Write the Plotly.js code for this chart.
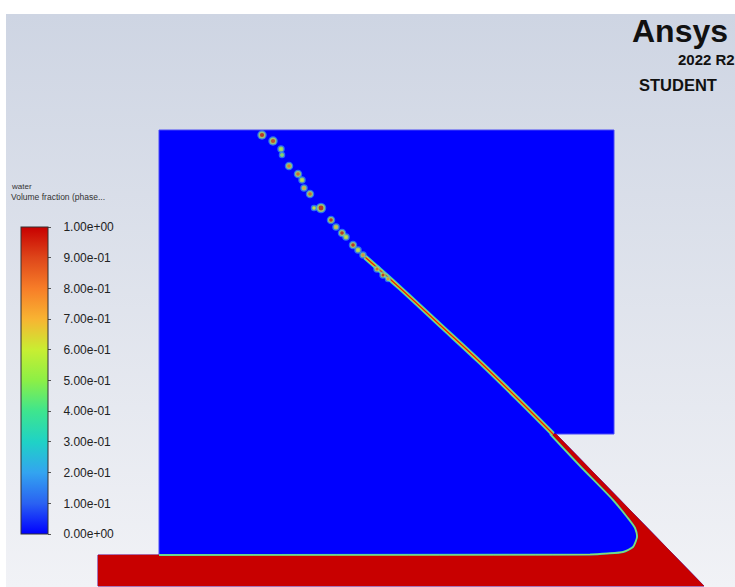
<!DOCTYPE html>
<html>
<head>
<meta charset="utf-8">
<script src="https://cdn.plot.ly/plotly-3.0.1.min.js"></script>
<style>
  html,body{margin:0;padding:0;background:#ffffff;width:735px;height:587px;overflow:hidden;}
  #bg{position:absolute;left:6px;top:14px;width:729px;height:573px;background:linear-gradient(#ced5e3,#f1f2f6);}
  #plot{position:absolute;left:0;top:0;width:735px;height:587px;}
</style>
</head>
<body>
<div id="bg"></div>
<div id="plot"></div>
<script>
// ---- Data (model units: origin at lower-left corner of upper air box, y up) ----
// Computational domain outline
const domainX = [0, 455, 455, 397, 545, -61, -61, 0, 0];
const domainY = [425, 425, 121, 121, -31, -31, 0, 0, 425];

// Water body (pool on the floor + film on the slanted wall below the step)
const waterX = [391, 397, 545, -61, -61, 0, 431, 448, 464, 474, 478, 476, 468, 454, 421, 391];
const waterY = [121, 121, -31, -31, 0, 0, 0.5, 1.5, 3, 8, 18, 27, 38, 55, 89, 121];

// Free surface of the pool / wall film (interface)
const surfX = [391, 421, 454, 468, 476, 478, 474, 464, 448, 431, 0];
const surfY = [121, 89, 55, 38, 27, 18, 8, 3, 1.5, 0.5, 0];

// Thin jet film above the step
const jetX = [206, 241, 281, 321, 358, 394];
const jetY = [298, 267, 230, 193, 157, 121];

// Droplets: position, size, peak volume fraction
const dropX = [103, 114, 122, 123, 130, 139, 143, 145, 151, 155, 162, 172, 177, 183, 187, 194, 199, 204, 218, 224, 229];
const dropY = [420, 414, 406, 400, 389, 381, 375, 367, 361, 347, 347, 335, 328, 322, 318, 310, 305, 300, 286, 280, 276];
const dropS = [7, 7, 5, 4, 6, 6, 5, 5, 6, 4, 8, 6, 5, 6, 5, 6, 5, 5, 5, 5, 4];
const dropV = [1.0, 0.95, 0.55, 0.45, 0.85, 0.9, 0.6, 0.75, 0.9, 0.6, 1.0, 1.0, 0.7, 1.0, 0.6, 1.0, 0.6, 0.8, 0.9, 1.0, 0.8];

// Colour bar
const tickVals = [0, 0.1, 0.2, 0.3, 0.4, 0.5, 0.6, 0.7, 0.8, 0.9, 1.0];
const tickText = ["0.00e+00", "1.00e-01", "2.00e-01", "3.00e-01", "4.00e-01", "5.00e-01",
                  "6.00e-01", "7.00e-01", "8.00e-01", "9.00e-01", "1.00e+00"];
const fluentScale = [
  [0.0, '#0000ff'], [0.1, '#2a62f2'], [0.2, '#33a4f0'], [0.3, '#1fd2c6'],
  [0.4, '#3ee58e'], [0.5, '#8cef46'], [0.6, '#c8ee32'], [0.7, '#f8b432'],
  [0.8, '#f77d28'], [0.9, '#de461a'], [1.0, '#c80000']
];

const W = 735, H = 587;
const px = v => v / W;
const py = v => 1 - v / H;
const NB = '\u00a0\u00a0\u00a0';

const traces = [
  {x: domainX, y: domainY, mode: 'lines', fill: 'toself', fillcolor: '#0000ff',
   line: {color: '#4848f6', width: 1}, hoverinfo: 'skip', showlegend: false},
  {x: waterX, y: waterY, mode: 'lines', fill: 'toself', fillcolor: '#c80000',
   line: {color: '#c80000', width: 0.5}, hoverinfo: 'skip', showlegend: false},
  {x: surfX, y: surfY, mode: 'lines', line: {color: '#38d0c0', width: 1.9, shape: 'spline', smoothing: 0.6},
   hoverinfo: 'skip', showlegend: false},
  {x: surfX, y: surfY, mode: 'lines', line: {color: '#b8e640', width: 0.8, shape: 'spline', smoothing: 0.6},
   hoverinfo: 'skip', showlegend: false},
  {x: jetX, y: jetY, mode: 'lines', line: {color: '#36d0c0', width: 5, shape: 'spline'},
   hoverinfo: 'skip', showlegend: false},
  {x: jetX, y: jetY, mode: 'lines', line: {color: '#e0cc30', width: 3, shape: 'spline'},
   hoverinfo: 'skip', showlegend: false},
  {x: jetX, y: jetY, mode: 'lines', line: {color: '#d42a0c', width: 1.3, shape: 'spline'},
   hoverinfo: 'skip', showlegend: false},
  {x: dropX, y: dropY, mode: 'markers', hoverinfo: 'skip', showlegend: false,
   marker: {size: dropS.map(s => s + 2.5), color: '#48bce6', opacity: 0.6, line: {width: 0}}},
  {x: dropX, y: dropY, mode: 'markers', hoverinfo: 'skip', showlegend: false,
   marker: {size: dropS.map(s => s), color: '#c4e244', line: {width: 0}}},
  {x: dropX, y: dropY, mode: 'markers', hoverinfo: 'skip', showlegend: false,
   marker: {size: dropS.map(s => s * 0.6), color: dropV, colorscale: fluentScale, cmin: 0, cmax: 1,
     line: {width: 0}, showscale: true,
     colorbar: {
       x: px(21), xanchor: 'left', xpad: 0,
       y: py(380.5), yanchor: 'middle', ypad: 0,
       len: 307, lenmode: 'pixels', thickness: 27, thicknessmode: 'pixels',
       outlinewidth: 1, outlinecolor: '#333333', borderwidth: 0,
       tickmode: 'array', tickvals: tickVals, ticktext: tickText.map(t => NB + t),
       ticks: 'outside', ticklen: 3, tickwidth: 1, tickcolor: '#555555',
       tickfont: {family: 'Liberation Sans, Arial, sans-serif', size: 12, color: '#222222'}
     }}}
];

const layout = {
  width: W, height: H,
  margin: {l: 0, r: 0, t: 0, b: 0, pad: 0},
  paper_bgcolor: 'rgba(0,0,0,0)', plot_bgcolor: 'rgba(0,0,0,0)',
  xaxis: {range: [-159, 576], visible: false, fixedrange: true},
  yaxis: {range: [-32, 555], visible: false, fixedrange: true},
  showlegend: false,
  annotations: [
    {text: 'water', xref: 'paper', yref: 'paper', x: px(9), y: py(186), xanchor: 'left', yanchor: 'middle',
     showarrow: false, font: {family: 'Liberation Sans, Arial, sans-serif', size: 8, color: '#333333'}},
    {text: 'Volume fraction (phase...', xref: 'paper', yref: 'paper', x: px(9), y: py(197), xanchor: 'left', yanchor: 'middle',
     showarrow: false, font: {family: 'Liberation Sans, Arial, sans-serif', size: 8.5, color: '#333333'}},
    {text: '<b>Ansys</b>', xref: 'paper', yref: 'paper', x: px(630), y: py(31), xanchor: 'left', yanchor: 'middle',
     showarrow: false, font: {family: 'Liberation Sans, Arial, sans-serif', size: 32, color: '#111111'}},
    {text: '<b>2022 R2</b>', xref: 'paper', yref: 'paper', x: px(676), y: py(60), xanchor: 'left', yanchor: 'middle',
     showarrow: false, font: {family: 'Liberation Sans, Arial, sans-serif', size: 15, color: '#111111'}},
    {text: '<b>STUDENT</b>', xref: 'paper', yref: 'paper', x: px(637), y: py(85), xanchor: 'left', yanchor: 'middle',
     showarrow: false, font: {family: 'Liberation Sans, Arial, sans-serif', size: 16.5, color: '#111111'}}
  ]
};

Plotly.newPlot('plot', traces, layout, {staticPlot: true, displayModeBar: false});
</script>
</body>
</html>
